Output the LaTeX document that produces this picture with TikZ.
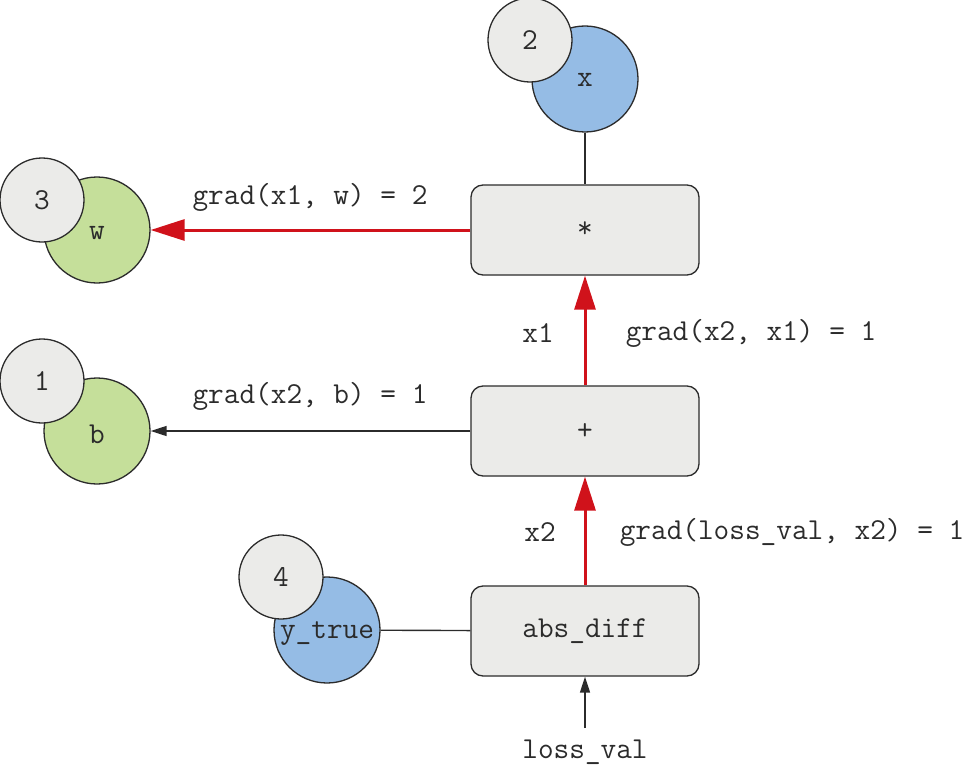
\documentclass[tikz,border=0pt]{standalone}
\usepackage{fontspec}
\usetikzlibrary{arrows.meta}
\definecolor{boxgray}{HTML}{EBEBE9}
\definecolor{nodeblue}{HTML}{95BCE5}
\definecolor{nodegreen}{HTML}{C5DF9A}
\definecolor{gradred}{HTML}{D0121B}
\definecolor{ink}{HTML}{2B2B2B}
\tikzset{
  txt/.style={font=\ttfamily\fontsize{30.4}{34}\selectfont, text=ink},
  opbox/.style={draw=ink, line width=1.3pt, fill=boxgray, rounded corners=12pt,
    minimum width=228pt, minimum height=90pt, inner sep=0pt, txt},
  varcirc/.style={circle, draw=ink, line width=1.3pt, minimum size=106pt, inner sep=0pt, txt},
  numcirc/.style={circle, draw=ink, line width=1.3pt, fill=boxgray, minimum size=84pt, inner sep=0pt, txt},
  redarrow/.style={draw=gradred, line width=3pt, -{Triangle[length=34pt,width=21pt]}},
  blackarrow/.style={draw=ink, line width=1.4pt, -{Triangle[length=16pt,width=10pt]}},
  plain/.style={draw=ink, line width=1.4pt},
  lbl/.style={txt, inner sep=0pt}
}
\begin{document}
\begin{tikzpicture}[x=1pt,y=-1pt]
\useasboundingbox (0,0) rectangle (968,765);
% boxes
\node[opbox] (mul) at (585,230) {*};
\node[opbox] (add) at (585,431) {+};
\node[opbox] (abs) at (585,631) {abs\_diff};
% variable circles
\node[varcirc, fill=nodeblue] (x) at (585,79) {};
\node[lbl] at (585,80) {x};
\node[numcirc] (n2) at (530,40) {2};
\node[varcirc, fill=nodegreen] (w) at (97,230) {};
\node[lbl] at (97,233) {w};
\node[numcirc] (n3) at (42,200) {3};
\node[varcirc, fill=nodegreen] (b) at (97,431) {};
\node[lbl] at (97,434) {b};
\node[numcirc] (n1) at (42,381) {1};
\node[varcirc, fill=nodeblue] (y) at (327,630) {};
\node[lbl] at (327,634) {y\_true};
\node[numcirc] (n4) at (281,577) {4};
\node[lbl] (loss) at (585,752) {loss\_val};
\coordinate (ls) at (585,728);
% connectors
\draw[plain] (x) -- (mul);
\draw[plain] (y) -- (abs);
\draw[redarrow] (mul) -- (w);
\draw[blackarrow] (add) -- (b);
\draw[redarrow] (add) -- (mul);
\draw[redarrow] (abs) -- (add);
\draw[blackarrow] (ls) -- (abs);
% labels
\node[lbl] at (310,197) {grad(x1, w) = 2};
\node[lbl] at (310,396) {grad(x2, b) = 1};
\node[lbl] at (538,333) {x1};
\node[lbl] at (751,333) {grad(x2, x1) = 1};
\node[lbl] at (540,532) {x2};
\node[lbl] at (792,532) {grad(loss\_val, x2) = 1};
\end{tikzpicture}
\end{document}
